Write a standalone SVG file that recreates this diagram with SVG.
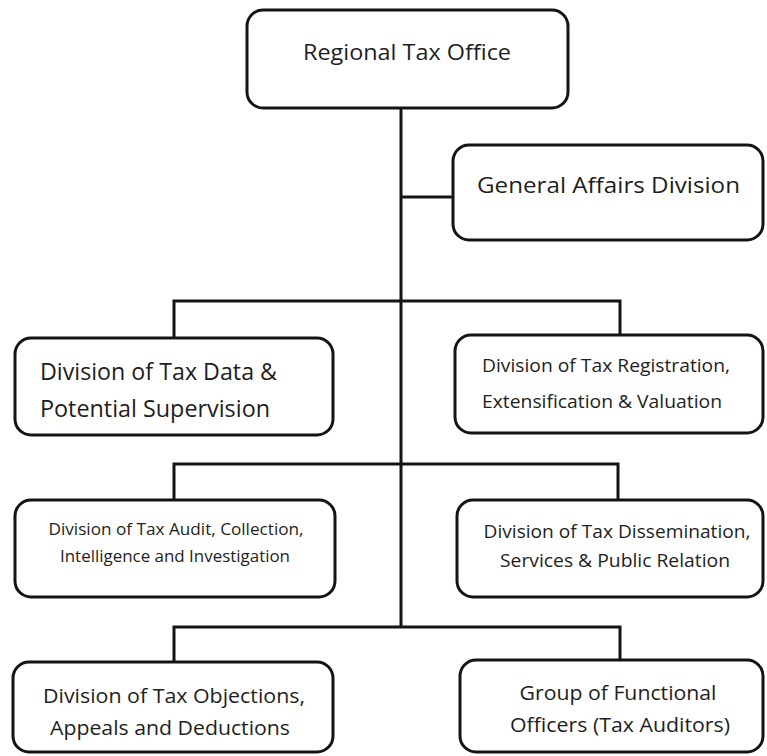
<svg xmlns="http://www.w3.org/2000/svg" width="767" height="756" viewBox="0 0 767 756">
<style>
.box{fill:#fff;stroke:#141414;stroke-width:3}
.ln{fill:none;stroke:#141414;stroke-width:3}
text{font-family:"Open Sans","Liberation Sans",sans-serif;fill:#1e1e1e}
.c{text-anchor:middle}
</style>
<rect width="767" height="756" fill="#fff"/>
<g id="connectors">
<path class="ln" d="M401 108 V627"/>
<path class="ln" d="M401 197 H453"/>
<path class="ln" d="M174 337 V301 H620 V334"/>
<path class="ln" d="M174 499 V464 H618 V499"/>
<path class="ln" d="M174 661 V627 H620 V660"/>
</g>
<g id="n-regional">
<rect class="box" x="247" y="10" width="321" height="98" rx="16"/>
<text class="c" x="407" y="60" font-size="22" textLength="208" lengthAdjust="spacingAndGlyphs">Regional Tax Office</text>
</g>
<g id="n-general">
<rect class="box" x="453" y="145" width="310" height="95" rx="16"/>
<text x="477" y="193" font-size="21" textLength="263" lengthAdjust="spacingAndGlyphs">General Affairs Division</text>
</g>
<g id="n-data">
<rect class="box" x="15" y="338" width="318" height="97" rx="16"/>
<text x="40" y="380" font-size="24" textLength="237" lengthAdjust="spacingAndGlyphs">Division of Tax Data &amp;</text>
<text x="40" y="417" font-size="24" textLength="230" lengthAdjust="spacingAndGlyphs">Potential Supervision</text>
</g>
<g id="n-registration">
<rect class="box" x="455" y="335" width="308" height="98" rx="16"/>
<text x="482" y="372" font-size="18.5" textLength="248" lengthAdjust="spacingAndGlyphs">Division of Tax Registration,</text>
<text x="482" y="408" font-size="18.5" textLength="240" lengthAdjust="spacingAndGlyphs">Extensification &amp; Valuation</text>
</g>
<g id="n-audit">
<rect class="box" x="15" y="500" width="320" height="97" rx="16"/>
<text class="c" x="176" y="535" font-size="16" textLength="255" lengthAdjust="spacingAndGlyphs">Division of Tax Audit, Collection,</text>
<text class="c" x="175" y="562" font-size="16" textLength="230" lengthAdjust="spacingAndGlyphs">Intelligence and Investigation</text>
</g>
<g id="n-dissemination">
<rect class="box" x="457" y="500" width="306" height="97" rx="16"/>
<text class="c" x="617" y="538" font-size="17.5" textLength="267" lengthAdjust="spacingAndGlyphs">Division of Tax Dissemination,</text>
<text class="c" x="615" y="567" font-size="17.5" textLength="230" lengthAdjust="spacingAndGlyphs">Services &amp; Public Relation</text>
</g>
<g id="n-objections">
<rect class="box" x="13" y="662" width="320" height="90" rx="16"/>
<text class="c" x="174" y="703" font-size="20.5" textLength="262" lengthAdjust="spacingAndGlyphs">Division of Tax Objections,</text>
<text class="c" x="170" y="735" font-size="20.5" textLength="240" lengthAdjust="spacingAndGlyphs">Appeals and Deductions</text>
</g>
<g id="n-functional">
<rect class="box" x="460" y="660" width="303" height="92" rx="16"/>
<text class="c" x="618" y="700" font-size="19.5" textLength="197" lengthAdjust="spacingAndGlyphs">Group of Functional</text>
<text class="c" x="620" y="732" font-size="19.5" textLength="220" lengthAdjust="spacingAndGlyphs">Officers (Tax Auditors)</text>
</g>
</svg>
